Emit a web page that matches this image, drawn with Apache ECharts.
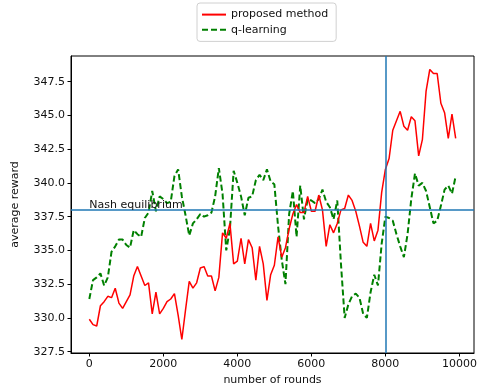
<!DOCTYPE html>
<html>
<head>
<meta charset="utf-8">
<script src="https://cdn.jsdelivr.net/npm/echarts@6/dist/echarts.min.js"></script>
<style>
  html, body { margin: 0; padding: 0; background: #fff; }
  #chart { width: 477px; height: 389px; }
</style>
</head>
<body>
<div id="chart"></div>
<script>
const rounds = [
  0, 100, 200, 300, 400, 500, 600, 700, 800, 900,
  1000, 1100, 1200, 1300, 1400, 1500, 1600, 1700, 1800, 1900,
  2000, 2100, 2200, 2300, 2400, 2500, 2600, 2700, 2800, 2900,
  3000, 3100, 3200, 3300, 3400, 3500, 3600, 3700, 3800, 3900,
  4000, 4100, 4200, 4300, 4400, 4500, 4600, 4700, 4800, 4900,
  5000, 5100, 5200, 5300, 5400, 5500, 5600, 5700, 5800, 5900,
  6000, 6100, 6200, 6300, 6400, 6500, 6600, 6700, 6800, 6900,
  7000, 7100, 7200, 7300, 7400, 7500, 7600, 7700, 7800, 7900,
  8000, 8100, 8200, 8300, 8400, 8500, 8600, 8700, 8800, 8900,
  9000, 9100, 9200, 9300, 9400, 9500, 9600, 9700, 9800, 9900
];

const proposed = [
  329.9, 329.5, 329.4, 330.9, 331.2, 331.6, 331.5, 332.2, 331.1, 330.7,
  331.2, 331.7, 333.1, 333.8, 333.1, 332.4, 332.6, 330.3, 331.9, 330.3,
  330.7, 331.2, 331.4, 331.8, 330.2, 328.4, 330.6, 332.7, 332.2, 332.6,
  333.7, 333.8, 333.1, 333.1, 332.0, 333.0, 336.3, 335.9, 337.0, 334.0,
  334.2, 335.9, 334.0, 335.8, 335.2, 332.8, 335.3, 334.0, 331.3, 333.2,
  333.9, 336.0, 334.5, 335.2, 336.6, 337.7, 338.4, 337.8, 337.8, 339.0,
  337.9, 337.9, 339.1, 338.0, 335.3, 336.9, 336.3, 337.0, 338.0, 338.1,
  339.1, 338.7, 337.9, 336.8, 335.6, 335.3, 337.0, 335.7, 336.5, 339.3,
  341.0, 341.8, 343.9, 344.6, 345.3, 344.2, 343.9, 344.9, 344.6, 342.0,
  343.2, 346.8, 348.4, 348.1, 348.1, 345.9, 345.2, 343.3, 345.1, 343.3
];

const qLearning = [
  331.4, 332.8, 333.0, 333.3, 332.4, 333.0, 334.9, 335.3, 335.8, 335.8,
  335.4, 335.2, 336.5, 336.2, 336.0, 337.4, 337.8, 339.4, 337.9, 339.0,
  338.8, 338.5, 338.6, 340.5, 341.0, 339.0, 337.6, 336.1, 337.0, 337.3,
  337.7, 337.5, 337.6, 337.8, 339.0, 341.1, 339.2, 335.0, 336.6, 340.9,
  340.0, 339.0, 337.6, 338.9, 339.0, 340.2, 340.6, 340.2, 341.0, 340.1,
  339.9, 336.8, 334.3, 332.5, 337.7, 339.4, 336.0, 339.8, 337.3, 338.8,
  338.7, 338.5, 338.8, 339.5, 338.6, 338.2, 337.3, 338.7, 334.0, 330.0,
  331.0, 331.6, 331.8, 331.5, 330.3, 330.0, 331.9, 333.2, 332.4, 335.5,
  337.5, 337.4, 337.2, 336.2, 335.3, 334.5, 336.2, 338.8, 340.7, 339.8,
  340.0, 339.4, 338.2, 337.0, 337.2, 338.3, 339.5, 339.8, 339.2, 340.5
];

const nashLevel = 338;
const switchRound = 8000;
const xTicks = [0, 2000, 4000, 6000, 8000, 10000];
const yTicks = [327.5, 330, 332.5, 335, 337.5, 340, 342.5, 345, 347.5];

const font = "DejaVu Sans";
const chart = echarts.init(document.getElementById("chart"));

chart.setOption({
  animation: false,
  backgroundColor: "#fff",
  textStyle: { fontFamily: font },
  legend: {
    orient: "vertical",
    left: 197,
    top: 3,
    padding: [6, 8, 6, 4],
    itemGap: 4,
    itemWidth: 24,
    itemHeight: 14,
    itemStyle: { opacity: 0 },
    backgroundColor: "#fff",
    borderColor: "#d0d0d0",
    borderWidth: 1,
    borderRadius: 3,
    textStyle: { color: "#111", fontSize: 11, fontFamily: font },
    data: ["proposed method", "q-learning"],
  },
  grid: { left: 71, right: 3, top: 56, bottom: 36, show: true, borderColor: "#000", borderWidth: 1, containLabel: false, outerBoundsMode: "none" },
  xAxis: {
    type: "value",
    min: -495,
    max: 10395,
    name: "number of rounds",
    nameLocation: "middle",
    nameGap: 22,
    nameTextStyle: { color: "#111", fontSize: 11, fontFamily: font },
    axisLine: { show: true, onZero: false, lineStyle: { color: "#000", width: 1 } },
    axisTick: { show: true, length: 3.5, lineStyle: { color: "#000" }, customValues: xTicks },
    axisLabel: { color: "#111", fontSize: 11, margin: 6, customValues: xTicks, formatter: (v) => String(v) },
    splitLine: { show: false },
  },
  yAxis: {
    type: "value",
    min: 327.4,
    max: 349.4,
    name: "average reward",
    nameLocation: "middle",
    nameGap: 50,
    nameRotate: 90,
    nameTextStyle: { color: "#111", fontSize: 11, fontFamily: font },
    axisLine: { show: true, onZero: false, lineStyle: { color: "#000", width: 1 } },
    axisTick: { show: true, length: 3.5, lineStyle: { color: "#000" }, customValues: yTicks },
    axisLabel: { color: "#111", fontSize: 11, margin: 6, customValues: yTicks, formatter: (v) => v.toFixed(1) },
    splitLine: { show: false },
  },
  series: [
    {
      name: "proposed method",
      type: "line",
      data: rounds.map((r, i) => [r, proposed[i]]),
      symbol: "none",
      color: "#ff0000",
      lineStyle: { color: "#ff0000", width: 1.5 },
      z: 3,
      markLine: {
        silent: true,
        symbol: "none",
        label: { show: false },
        lineStyle: { color: "#1f77b4", width: 1.5, type: "solid" },
        data: [{ yAxis: nashLevel }, { xAxis: switchRound }],
      },
      markPoint: {
        silent: true,
        symbol: "circle",
        symbolSize: 0,
        data: [{ coord: [0, nashLevel] }],
        label: {
          show: true,
          formatter: "Nash equilibrium",
          position: [0, 1],
          align: "left",
          verticalAlign: "bottom",
          color: "#111",
          fontSize: 11,
          fontFamily: font,
        },
      },
    },
    {
      name: "q-learning",
      type: "line",
      data: rounds.map((r, i) => [r, qLearning[i]]),
      symbol: "none",
      color: "#008000",
      lineStyle: { color: "#008000", width: 2, type: [6, 3] },
      z: 2,
    },
  ],
});
</script>
</body>
</html>
